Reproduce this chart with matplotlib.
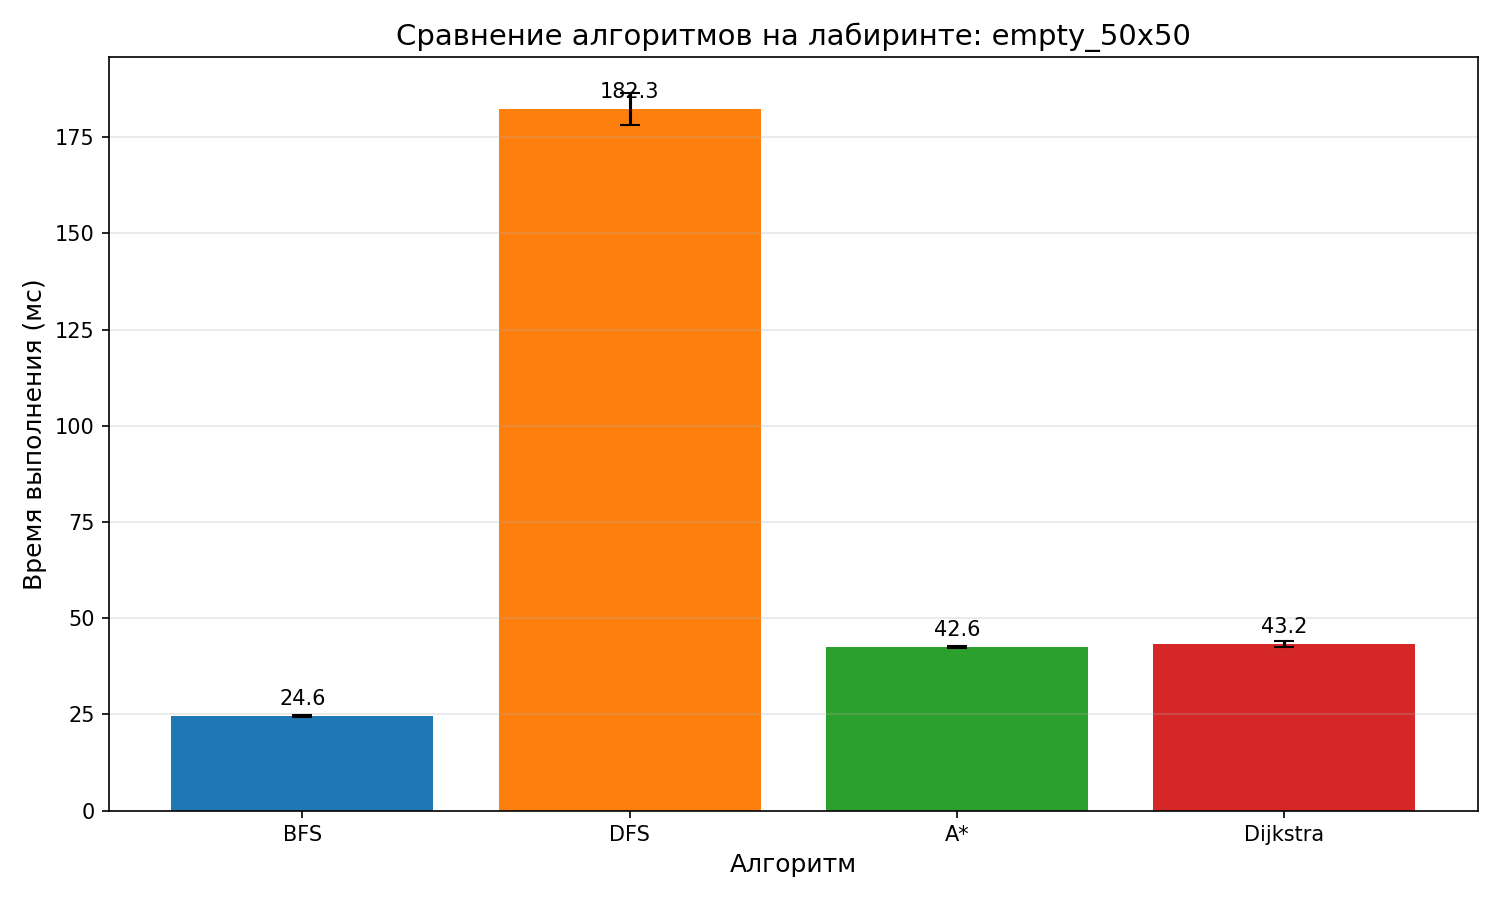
import matplotlib
matplotlib.use('Agg')
import matplotlib.pyplot as plt

# данные по времени выполнения
algorithms = ['BFS', 'DFS', 'A*', 'Dijkstra']
mean_times = [24.6, 182.3, 42.6, 43.2]
std_times = [0.3, 4.1, 0.3, 0.8]
colors = ['#1f77b4', '#ff7f0e', '#2ca02c', '#d62728']

fig, ax = plt.subplots(figsize=(10, 6), dpi=150)

bars = ax.bar(algorithms, mean_times, yerr=std_times, capsize=5,
              color=colors, ecolor='black')

offset = max(mean_times) * 0.01
for bar, val in zip(bars, mean_times):
    ax.text(bar.get_x() + bar.get_width() / 2, bar.get_height() + offset,
            f'{val:.1f}', ha='center', va='bottom', fontsize=10)

ax.set_title('Сравнение алгоритмов на лабиринте: empty_50x50', fontsize=14)
ax.set_xlabel('Алгоритм', fontsize=12)
ax.set_ylabel('Время выполнения (мс)', fontsize=12)
ax.grid(True, axis='y', alpha=0.3)

plt.tight_layout()
plt.savefig('out.png', dpi=150)
plt.close()
